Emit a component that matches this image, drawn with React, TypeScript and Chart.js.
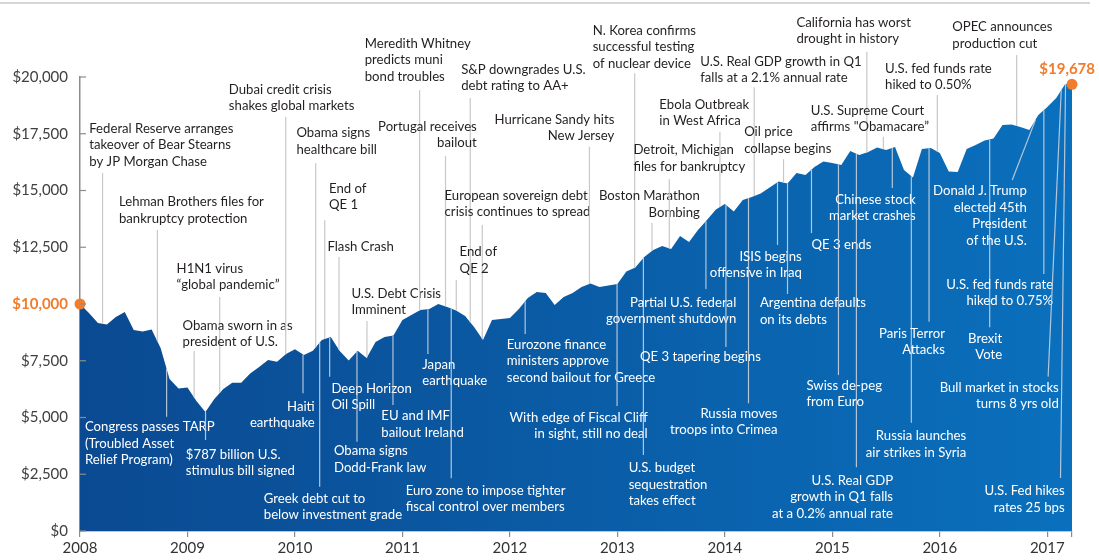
import React, { useEffect, useRef } from 'react';
import { Chart, registerables } from 'chart.js';

Chart.register(...registerables);

// ---------- data ----------
const startYear = 2008;
// month-end values of a $10,000 investment, Jan 2008 .. Mar 2017
const monthlyValues = [
  10000, 9600, 9160, 9100, 9430, 9650, 8855, 8790, 8880, 8060, 6700, 6280,
  6320, 5730, 5240, 5815, 6255, 6530, 6530, 6940, 7225, 7530, 7460, 7800,
  8005, 7750, 7940, 8415, 8545, 7930, 7510, 7940, 7620, 8325, 8545, 8610,
  9295, 9515, 9735, 9780, 10000, 9870, 9715, 9470, 8985, 8415, 9295, 9340,
  9385, 9780, 10265, 10530, 10485, 9955, 10310, 10485, 10750, 10900, 10750, 10815,
  10880, 11430, 11610, 12070, 12380, 12555, 12420, 12995, 12730, 13260, 13700, 14160,
  14405, 14080, 14580, 14715, 14865, 15130, 15395, 15310, 15770, 15680, 16035, 16275,
  16210, 16120, 16740, 16565, 16695, 16895, 16785, 16915, 15900, 15570, 16825, 16870,
  16650, 15835, 15815, 16825, 17005, 17200, 17290, 17885, 17905, 17795, 17665, 18325,
  18675, 19075, 19690,
];
const finalDate = 2017.23;
const finalValue = 19678;
const startValue = 10000;

const yTickValues = [0, 2500, 5000, 7500, 10000, 12500, 15000, 17500, 20000];
const yearTicks = [2008, 2009, 2010, 2011, 2012, 2013, 2014, 2015, 2016, 2017];

type Note = {
  date: number;
  lines: string[];
  lx: number;
  ly: number;
  align?: CanvasTextAlign;
  endValue: number;
  endDate?: number;
};

// events labelled above the area (dark text)
const notesAbove: Note[] = [
  { date: 2008.21, lines: ['Federal Reserve arranges', 'takeover of Bear Stearns', 'by JP Morgan Chase'], lx: 2008.086, ly: 17740, endValue: 15770 },
  { date: 2008.72, lines: ['Lehman Brothers files for', 'bankruptcy protection'], lx: 2008.362, ly: 14505, endValue: 13260 },
  { date: 2009.3, lines: ['H1N1 virus', '\u201Cglobal pandemic\u201D'], lx: 2008.899, ly: 11570, endValue: 10310 },
  { date: 2009.062, lines: ['Obama sworn in as', 'president of U.S.'], lx: 2008.954, ly: 9075, endValue: 7930 },
  { date: 2009.914, lines: ['Dubai credit crisis', 'shakes global markets'], lx: 2009.385, ly: 19455, endValue: 18235 },
  { date: 2010.193, lines: ['Obama signs', 'healthcare bill'], lx: 2010.014, ly: 17545, endValue: 16210 },
  { date: 2010.277, lines: ['End of', 'QE 1'], lx: 2010.317, ly: 15095, endValue: 13690 },
  { date: 2010.41, lines: ['Flash Crash'], lx: 2010.302, ly: 12525, endValue: 12070 },
  { date: 2010.67, lines: ['U.S. Debt Crisis', 'Imminent'], lx: 2010.525, ly: 10485, endValue: 9250 },
  { date: 2011.16, lines: ['Meredith Whitney', 'predicts muni', 'bond troubles'], lx: 2010.649, ly: 21485, endValue: 19425 },
  { date: 2011.631, lines: ['S&P downgrades U.S.', 'debt rating to AA+'], lx: 2011.547, ly: 20340, endValue: 19075 },
  { date: 2011.401, lines: ['Portugal receives', 'bailout'], lx: 2011.692, ly: 17840, align: 'right', endValue: 16520 },
  { date: 2011.743, lines: ['European sovereign debt', 'crisis continues to spread'], lx: 2011.392, ly: 14800, endValue: 13480 },
  { date: 2011.501, lines: ['End of', 'QE 2'], lx: 2011.532, ly: 12305, endValue: 11055 },
  { date: 2012.74, lines: ['Hurricane Sandy hits', 'New Jersey'], lx: 2012.972, ly: 18135, align: 'right', endValue: 16930 },
  { date: 2013.161, lines: ['N. Korea confirms', 'successful testing', 'of nuclear device'], lx: 2012.77, ly: 22070, endValue: 20160 },
  { date: 2013.322, lines: ['Boston Marathon', 'Bombing'], lx: 2013.768, ly: 14770, align: 'right', endValue: 13565 },
  { date: 2013.483, lines: ['Detroit, Michigan', 'files for bankruptcy'], lx: 2013.149, ly: 16785, endValue: 15505 },
  { date: 2013.954, lines: ['Ebola Outbreak', 'in West Africa'], lx: 2013.39, ly: 18810, endValue: 17590 },
  { date: 2014.273, lines: ['U.S. Real GDP growth in Q1', 'falls at a 2.1% annual rate'], lx: 2013.771, ly: 20705, endValue: 19545 },
  { date: 2014.546, lines: ['Oil price', 'collapse begins'], lx: 2014.18, ly: 17590, endValue: 16375 },
  { date: 2015.321, lines: ['California has worst', 'drought in history'], lx: 2014.666, ly: 22410, endValue: 21115 },
  { date: 2015.977, lines: ['U.S. fed funds rate', 'hiked to 0.50%'], lx: 2015.491, ly: 20380, endValue: 19205 },
  { date: 2015.475, lines: ['U.S. Supreme Court', 'affirms "Obamacare\u201D'], lx: 2014.8, ly: 18545, endValue: 17370 },
  { date: 2016.715, lines: ['OPEC announces', 'production cut'], lx: 2016.116, ly: 22215, endValue: 20970 },
];

// events labelled inside the area (white text)
const notesInside: Note[] = [
  { date: 2008.806, lines: ['Congress passes TARP', '(Troubled Asset', 'Relief Program)'], lx: 2008.046, ly: 4595, endValue: 5035 },
  { date: 2009.168, lines: ['$787 billion U.S.', 'stimulus bill signed'], lx: 2008.985, ly: 3390, endValue: 4010 },
  { date: 2010.075, lines: ['Haiti', 'earthquake'], lx: 2010.184, ly: 5505, align: 'right', endValue: 6065 },
  { date: 2010.323, lines: ['Deep Horizon', 'Oil Spill'], lx: 2010.339, ly: 6285, endValue: 6795 },
  { date: 2010.577, lines: ['Obama signs', 'Dodd-Frank law'], lx: 2010.363, ly: 3535, endValue: 3935 },
  { date: 2010.23, lines: ['Greek debt cut to', 'below investment grade'], lx: 2009.71, ly: 1440, endValue: 1950 },
  { date: 2010.912, lines: ['EU and IMF', 'bailout Ireland'], lx: 2010.804, ly: 5080, endValue: 5550 },
  { date: 2011.237, lines: ['Japan', 'earthquake'], lx: 2011.185, ly: 7355, endValue: 7795 },
  { date: 2011.454, lines: ['Euro zone to impose tighter', 'fiscal control over members'], lx: 2011.03, ly: 1805, endValue: 2320 },
  { date: 2012.142, lines: ['Eurozone finance', 'ministers approve', 'second bailout for Greece'], lx: 2011.971, ly: 8225, endValue: 8680 },
  { date: 2012.997, lines: ['With edge of Fiscal Cliff', 'in sight, still no deal'], lx: 2013.282, ly: 5010, align: 'right', endValue: 5505 },
  { date: 2013.242, lines: ['U.S. budget', 'sequestration', 'takes effect'], lx: 2013.105, ly: 2790, endValue: 3350 },
  { date: 2013.824, lines: ['Partial U.S. federal', 'government shutdown'], lx: 2014.106, ly: 10085, align: 'right', endValue: 10660 },
  { date: 2014.01, lines: ['QE 3 tapering begins'], lx: 2013.21, ly: 7680, endValue: 8105 },
  { date: 2014.22, lines: ['Russia moves', 'troops into Crimea'], lx: 2014.49, ly: 5185, align: 'right', endValue: 5625 },
  { date: 2014.49, lines: ['ISIS begins', 'offensive in Iraq'], lx: 2014.716, ly: 12115, align: 'right', endValue: 12600 },
  { date: 2014.583, lines: ['Argentina defaults', 'on its debts'], lx: 2014.326, ly: 10055, endValue: 10440 },
  { date: 2014.806, lines: ['QE 3 ends'], lx: 2014.806, ly: 12600, endValue: 13125 },
  { date: 2015.057, lines: ['Swiss de-peg', 'from Euro'], lx: 2014.759, ly: 6430, endValue: 6870 },
  { date: 2015.224, lines: ['U.S. Real GDP', 'growth in Q1 falls', 'at a 0.2% annual rate'], lx: 2015.565, ly: 2245, align: 'right', endValue: 2805 },
  { date: 2015.558, lines: ['Chinese stock', 'market crashes'], lx: 2015.775, ly: 14625, align: 'right', endValue: 15110 },
  { date: 2015.735, lines: ['Russia launches', 'air strikes in Syria'], lx: 2016.246, ly: 4200, align: 'right', endValue: 4770 },
  { date: 2015.9, lines: ['Paris Terror', 'Attacks'], lx: 2016.048, ly: 8710, align: 'right', endValue: 9220 },
  { date: 2016.464, lines: ['Brexit', 'Vote'], lx: 2016.581, ly: 8490, align: 'right', endValue: 8975 },
  { date: 2016.891, lines: ['Donald J. Trump', 'elected 45th', 'President', 'of the U.S.'], lx: 2016.809, ly: 14990, align: 'right', endDate: 2016.674, endValue: 15460 },
  { date: 2016.968, lines: ['U.S. fed funds rate', 'hiked to 0.75%'], lx: 2017.054, ly: 10880, align: 'right', endValue: 11320 },
  { date: 2017.13, lines: ['Bull market in stocks', 'turns 8 yrs old'], lx: 2017.107, ly: 6330, align: 'right', endDate: 2017.008, endValue: 6800 },
  { date: 2017.17, lines: ['U.S. Fed hikes', 'rates 25 bps'], lx: 2017.162, ly: 1775, align: 'right', endDate: 2017.123, endValue: 2335 },
];

// ---------- helpers ----------
const points = monthlyValues
  .map((v, i) => ({ x: startYear + i / 12, y: v }))
  .concat([{ x: finalDate, y: finalValue }]);

function seriesAt(d: number): number {
  for (let i = 0; i < points.length - 1; i++) {
    const a = points[i];
    const b = points[i + 1];
    if (d >= a.x && d <= b.x) {
      return a.y + ((d - a.x) / (b.x - a.x)) * (b.y - a.y);
    }
  }
  return points[points.length - 1].y;
}

const FONT = 'Lato, "Open Sans", sans-serif';
const ORANGE = '#f07c2c';
const LINE_H = 16.5;
const TEXT_SQUEEZE = 0.94;

const notesPlugin = {
  id: 'notes',
  beforeDraw(chart: any) {
    const { ctx } = chart;
    ctx.save();
    ctx.strokeStyle = '#c9c9c9';
    ctx.lineWidth = 1.5;
    ctx.beginPath();
    ctx.moveTo(0, 3);
    ctx.lineTo(1090, 3);
    ctx.stroke();
    ctx.restore();
  },
  afterDatasetsDraw(chart: any) {
    const { ctx, scales } = chart;
    const xs = scales.x;
    const ys = scales.y;
    ctx.save();
    const drawNote = (n: Note, inside: boolean) => {
      const sx = xs.getPixelForValue(n.date);
      const sy = ys.getPixelForValue(seriesAt(n.date));
      const ex = xs.getPixelForValue(n.endDate ?? n.date);
      const ey = ys.getPixelForValue(n.endValue);
      ctx.strokeStyle = inside ? 'rgba(200,208,220,0.9)' : '#c8c8c8';
      ctx.lineWidth = 1.2;
      ctx.beginPath();
      ctx.moveTo(sx, sy);
      ctx.lineTo(ex, ey);
      ctx.stroke();
      ctx.fillStyle = inside ? '#ffffff' : '#231f20';
      ctx.font = '14px ' + FONT;
      ctx.textAlign = n.align ?? 'left';
      ctx.textBaseline = 'middle';
      const tx = xs.getPixelForValue(n.lx);
      const ty = ys.getPixelForValue(n.ly);
      ctx.save();
      ctx.translate(tx, ty);
      ctx.scale(TEXT_SQUEEZE, 1);
      n.lines.forEach((t, k) => ctx.fillText(t, 0, k * LINE_H));
      ctx.restore();
    };
    notesAbove.forEach((n) => drawNote(n, false));
    notesInside.forEach((n) => drawNote(n, true));

    // inward tick marks on the value axis
    ctx.strokeStyle = '#8c8c8c';
    ctx.lineWidth = 1.2;
    const left = chart.chartArea.left;
    yTickValues.forEach((v) => {
      const py = ys.getPixelForValue(v);
      ctx.beginPath();
      ctx.moveTo(left, py);
      ctx.lineTo(left + 6, py);
      ctx.stroke();
    });

    // final value label
    ctx.fillStyle = ORANGE;
    ctx.font = 'bold 15px ' + FONT;
    ctx.textAlign = 'right';
    ctx.textBaseline = 'middle';
    ctx.fillText(
      '$' + finalValue.toLocaleString('en-US'),
      xs.getPixelForValue(finalDate) + 23,
      ys.getPixelForValue(finalValue) - 15.5
    );
    ctx.restore();
  },
};

export default function App() {
  const canvasRef = useRef<HTMLCanvasElement | null>(null);

  useEffect(() => {
    const canvas = canvasRef.current;
    if (!canvas) return;
    Chart.defaults.font.family = FONT;

    const chart = new Chart(canvas, {
      type: 'line',
      data: {
        datasets: [
          {
            type: 'scatter',
            data: [
              { x: startYear, y: startValue },
              { x: finalDate, y: finalValue },
            ],
            backgroundColor: ORANGE,
            borderColor: ORANGE,
            borderWidth: 0,
            pointRadius: 5.5,
            showLine: false,
            clip: false,
            order: 0,
          } as any,
          {
            data: points,
            fill: 'origin',
            borderWidth: 0,
            borderColor: 'transparent',
            pointRadius: 0,
            tension: 0,
            order: 1,
            backgroundColor: (c: any) => {
              const { chart: ch } = c;
              const area = ch.chartArea;
              if (!area) return '#0b5ca6';
              const g = ch.ctx.createLinearGradient(area.left, 0, area.right, 0);
              g.addColorStop(0, '#0a4a92');
              g.addColorStop(0.5, '#0a5ca6');
              g.addColorStop(1, '#0a70bd');
              return g;
            },
          },
        ],
      },
      options: {
        animation: false,
        responsive: false,
        devicePixelRatio: 1,
        layout: { padding: { top: 77, right: 27, left: 0, bottom: 0 } },
        plugins: { legend: { display: false }, tooltip: { enabled: false } },
        scales: {
          x: {
            type: 'linear',
            min: startYear,
            max: finalDate,
            afterBuildTicks: (scale: any) => {
              scale.ticks = yearTicks.map((v) => ({ value: v })).concat([{ value: finalDate }]);
            },
            afterFit: (scale: any) => {
              scale.height = 29;
            },
            grid: {
              drawOnChartArea: false,
              drawTicks: true,
              tickLength: 6,
              color: '#8c8c8c',
              lineWidth: 1.2,
            },
            border: { display: true, color: '#8c8c8c', width: 1.5 },
            ticks: {
              autoSkip: false,
              maxRotation: 0,
              padding: 2,
              color: '#333333',
              font: { size: 15, family: FONT },
              callback: (v: any) => (Number.isInteger(Number(v)) ? String(v) : ''),
            },
          },
          y: {
            type: 'linear',
            min: 0,
            max: 20000,
            afterBuildTicks: (scale: any) => {
              scale.ticks = yTickValues.map((v) => ({ value: v }));
            },
            afterFit: (scale: any) => {
              scale.width = 80;
            },
            grid: { drawOnChartArea: false, drawTicks: false },
            border: { display: true, color: '#8c8c8c', width: 1.5 },
            ticks: {
              padding: 12,
              color: (c: any) => (c.tick && c.tick.value === startValue ? ORANGE : '#404040'),
              font: (c: any) =>
                c.tick && c.tick.value === startValue
                  ? { size: 15, weight: 'bold', family: FONT }
                  : { size: 15, family: FONT },
              callback: (v: any) => '$' + Number(v).toLocaleString('en-US'),
            },
          },
        },
      },
      plugins: [notesPlugin],
    } as any);

    return () => chart.destroy();
  }, []);

  return (
    <div style={{ position: 'fixed', left: 0, top: 0, width: 1099, height: 560, background: '#ffffff' }}>
      <canvas ref={canvasRef} width={1099} height={560} style={{ display: 'block' }} />
    </div>
  );
}
